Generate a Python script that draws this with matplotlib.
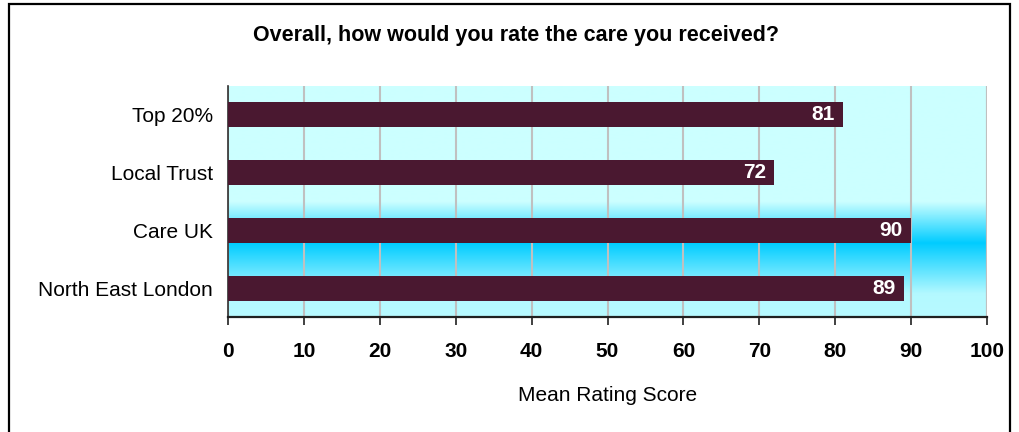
import numpy as np
import matplotlib
matplotlib.use("Agg")
import matplotlib.pyplot as plt
from matplotlib.patches import Rectangle

categories = ["Top 20%", "Local Trust", "Care UK", "North East London"]
values = [81, 72, 90, 89]
xticks = [0, 10, 20, 30, 40, 50, 60, 70, 80, 90, 100]
title = "Overall, how would you rate the care you received?"
xlabel = "Mean Rating Score"

plt.rcParams['font.family'] = ['Liberation Sans', 'DejaVu Sans']

W, H = 1019, 432
fig = plt.figure(figsize=(W / 100, H / 100), dpi=100)
fig.patch.set_facecolor("white")

# outer chart border
fig.patches.append(Rectangle((9 / W, -0.05), (1010 - 9) / W, 1.05 - 4 / H,
                             transform=fig.transFigure, fill=False,
                             edgecolor="black", linewidth=1.6))

left, right, top, bottom = 228, 987, 86, 317
ax = fig.add_axes([left / W, 1 - bottom / H, (right - left) / W, (bottom - top) / H])

# gradient background
light = np.array([0xCC, 0xFF, 0xFF]) / 255
dark = np.array([0x00, 0xCC, 0xFF]) / 255
yy = np.linspace(0, 1, 400)  # 0 = top
prof = np.interp(yy, [0, 0.5, 0.68, 0.9, 1.0], [0, 0, 1, 0.12, 0.1])
img = light[None, :] * (1 - prof[:, None]) + dark[None, :] * prof[:, None]
img = img[:, None, :]
ax.imshow(img, extent=[0, 100, 3.5, -0.5], aspect="auto", zorder=0,
          interpolation="bilinear")

y = np.arange(len(categories))
ax.barh(y, values, height=0.43, color="#4A1830", zorder=3)
for yi, v in zip(y, values):
    ax.text(v - 1.1, yi, f"{v}", ha="right", va="center", color="white",
            fontsize=15, fontweight="bold", zorder=4)

ax.set_xlim(0, 100)
ax.set_ylim(3.5, -0.5)
ax.set_xticks(xticks)
ax.set_xticklabels([str(t) for t in xticks], fontsize=15, fontweight="bold")
ax.set_yticks(y)
ax.set_yticklabels(categories, fontsize=15)
ax.tick_params(axis="y", length=0, pad=11)
ax.tick_params(axis="x", direction="out", length=6, width=1.2, color="#202020", pad=12)
ax.grid(axis="x", color="#C0C0C0", linewidth=1.5, zorder=1)
ax.set_axisbelow(True)
for s in ["top", "right"]:
    ax.spines[s].set_visible(False)
ax.spines["left"].set_color("#303030")
ax.spines["left"].set_linewidth(1.2)
ax.spines["bottom"].set_color("#202020")
ax.spines["bottom"].set_linewidth(1.6)
ax.axvline(100, color="#C0C0C0", linewidth=1.5, zorder=1)

ax.set_xlabel(xlabel, fontsize=15, labelpad=18)

fig.text(516 / W, 1 - 35 / H, title, ha="center", va="center",
         fontsize=15.5, fontweight="bold")

fig.savefig("out.png", dpi=100)
